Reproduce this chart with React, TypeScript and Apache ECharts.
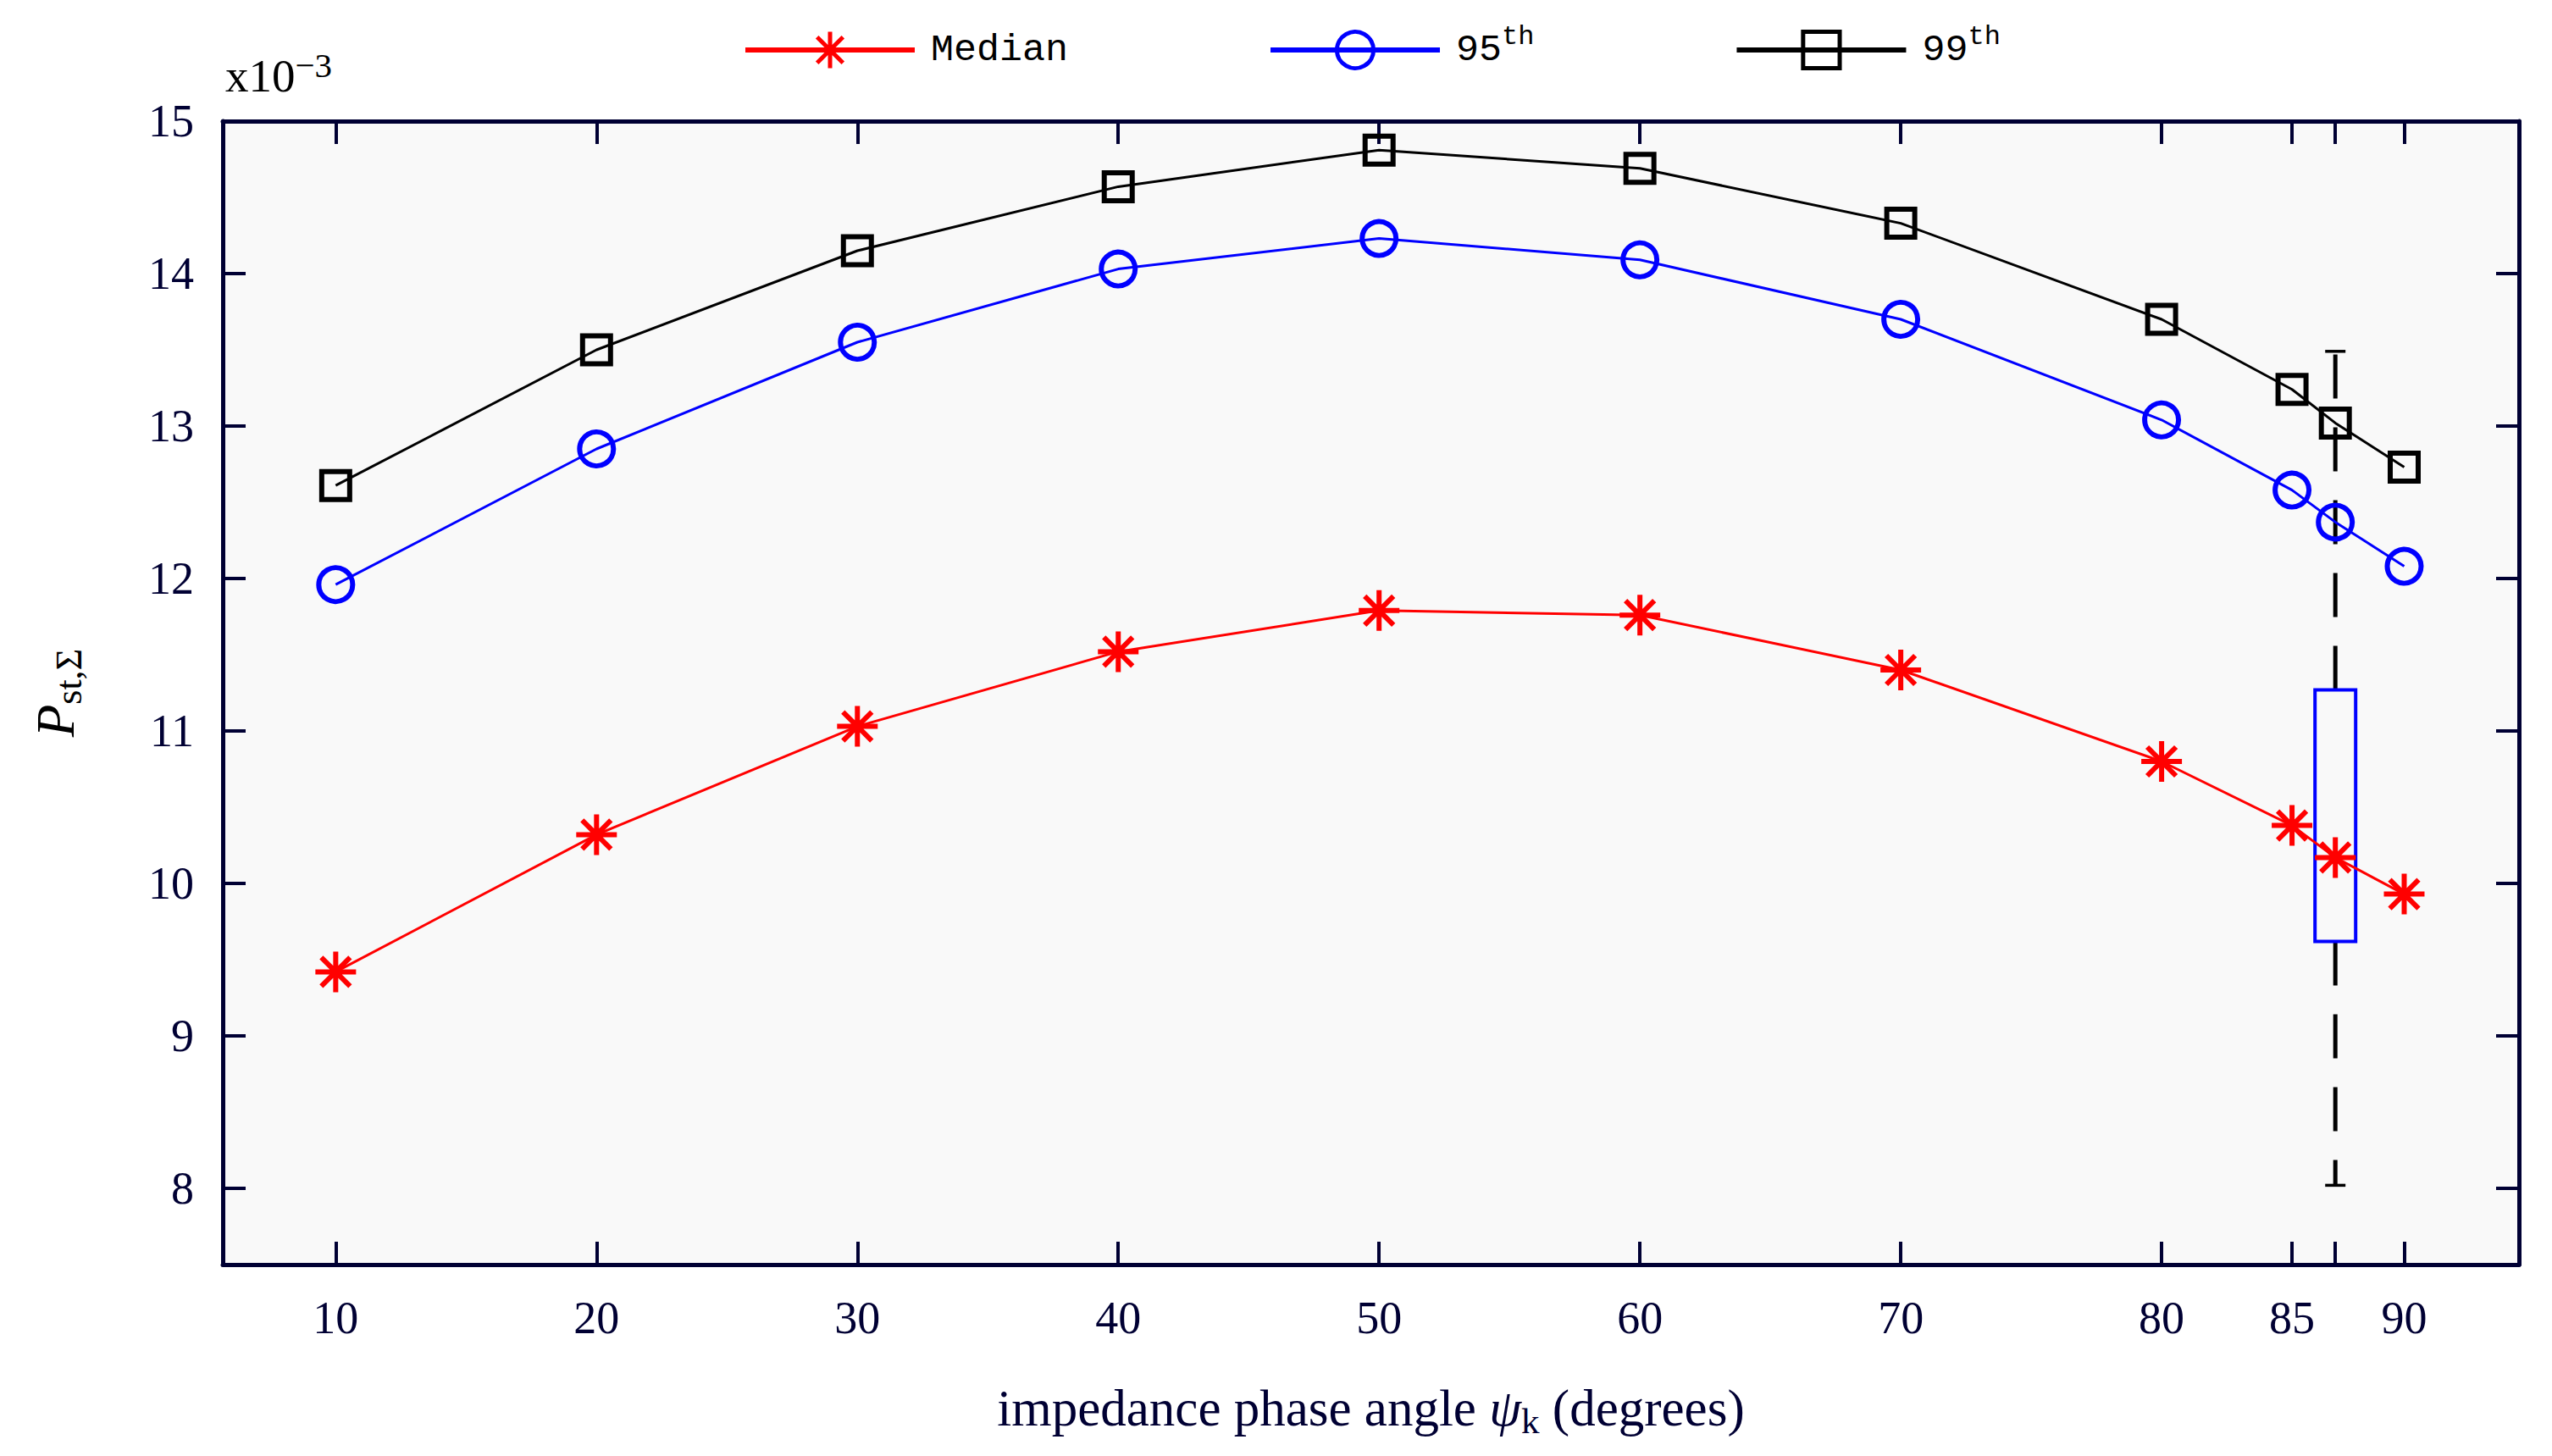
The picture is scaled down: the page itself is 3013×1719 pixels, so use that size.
import React, { useEffect, useRef } from "react";
import * as echarts from "echarts";

// ---- data ----
const xValues = [10, 20, 30, 40, 50, 60, 70, 80, 85, 86.66, 89.3];
const xTickValues = [10, 20, 30, 40, 50, 60, 70, 80, 85, 86.66, 89.3];
const xLabelValues = [10, 20, 30, 40, 50, 60, 70, 80, 85, 89.3];
const xLabelTexts = ["10", "20", "30", "40", "50", "60", "70", "80", "85", "90"];
const yTickValues = [8, 9, 10, 11, 12, 13, 14, 15];
const medianValues = [9.42, 10.32, 11.03, 11.52, 11.79, 11.76, 11.4, 10.8, 10.38, 10.17, 9.93];
const p95Values = [11.96, 12.85, 13.55, 14.03, 14.23, 14.09, 13.7, 13.04, 12.58, 12.37, 12.08];
const p99Values = [12.61, 13.5, 14.15, 14.57, 14.81, 14.69, 14.33, 13.7, 13.24, 13.02, 12.73];
const boxX = 86.66;
// [lower whisker, Q1, median, Q3, upper whisker]
const boxStats = [8.02, 9.62, 10.17, 11.27, 13.49];
const seriesNames = ["Median", "95th", "99th"];
const xRange = [5.67, 93.7];
const yRange = [7.5, 15];

const AXIS = "#000033";
const SERIF = "'Liberation Serif', 'Times New Roman', serif";
const MONO = "'Liberation Mono', 'Courier New', monospace";
const STAR = "path://M0,-24L0,24M-24,0L24,0M-17,-17L17,17M-17,17L17,-17";

export default function App() {
  const ref = useRef<HTMLDivElement>(null);
  useEffect(() => {
    document.body.style.margin = "0";
    const chart = echarts.init(ref.current!, null, { renderer: "svg" });
    const pair = (vals: number[]) => xValues.map((x, i) => [x, vals[i]]);
    const axisCommon = {
      type: "value" as const,
      axisLine: { show: true, lineStyle: { color: AXIS, width: 5 } },
      axisTick: { show: true, inside: true, length: 27, lineStyle: { color: AXIS, width: 4 } },
      splitLine: { show: false },
    };
    const option: any = {
      animation: false,
      backgroundColor: "#ffffff",
      grid: {
        left: 263,
        right: 39,
        top: 143,
        bottom: 226,
        show: true,
        backgroundColor: "#f9f9f9",
        borderWidth: 0,
      },
      legend: {
        left: 872,
        top: 22,
        itemWidth: 200,
        itemHeight: 54,
        itemGap: 236,
        data: seriesNames,
        lineStyle: { width: 6 },
        itemStyle: { borderWidth: 5 },
        textStyle: {
          fontFamily: MONO,
          fontSize: 45,
          color: "#000000",
          padding: [0, 0, 0, 14],
          rich: {
            a: { fontFamily: MONO, fontSize: 45, lineHeight: 64, color: "#000" },
            s: { fontFamily: MONO, fontSize: 32, lineHeight: 32, verticalAlign: "top", color: "#000" },
          },
        },
        formatter: (name: string) => {
          if (name === "Median") return "{a|Median}";
          return "{a|" + name.slice(0, 2) + "}{s|" + name.slice(2) + "}";
        },
      },
      xAxis: [
        {
          ...axisCommon,
          position: "bottom",
          min: xRange[0],
          max: xRange[1],
          axisTick: { ...axisCommon.axisTick, customValues: xTickValues },
          axisLabel: {
            show: true,
            customValues: xLabelValues,
            margin: 36,
            fontFamily: SERIF,
            fontSize: 54,
            color: AXIS,
            formatter: (v: number) => {
              const i = xLabelValues.findIndex((t) => Math.abs(t - v) < 1e-6);
              return i >= 0 ? xLabelTexts[i] : "";
            },
          },
          name: "{a|impedance phase angle }{p|ψ}{k|k}{a| (degrees)}",
          nameLocation: "middle",
          nameGap: 132,
          nameTextStyle: {
            color: AXIS,
            rich: {
              a: { fontFamily: SERIF, fontSize: 61, lineHeight: 74, color: AXIS },
              p: { fontFamily: SERIF, fontStyle: "italic", fontSize: 61, lineHeight: 74, color: AXIS },
              k: { fontFamily: SERIF, fontSize: 43, lineHeight: 36, verticalAlign: "bottom", color: AXIS },
            },
          },
        },
        {
          ...axisCommon,
          position: "top",
          min: xRange[0],
          max: xRange[1],
          axisTick: { ...axisCommon.axisTick, customValues: xTickValues },
          axisLabel: { show: false },
        },
      ],
      yAxis: [
        {
          ...axisCommon,
          position: "left",
          min: yRange[0],
          max: yRange[1],
          axisTick: { ...axisCommon.axisTick, customValues: yTickValues },
          axisLabel: {
            show: true,
            customValues: yTickValues,
            margin: 34,
            fontFamily: SERIF,
            fontSize: 54,
            color: AXIS,
          },
          name: "{p|P}{s|st,Σ}",
          nameLocation: "middle",
          nameRotate: 90,
          nameGap: 160,
          nameTextStyle: {
            color: "#000",
            rich: {
              p: { fontFamily: SERIF, fontStyle: "italic", fontSize: 63, lineHeight: 74, color: "#000" },
              s: { fontFamily: SERIF, fontSize: 44, lineHeight: 36, verticalAlign: "bottom", color: "#000" },
            },
          },
        },
        {
          ...axisCommon,
          position: "right",
          min: yRange[0],
          max: yRange[1],
          axisTick: { ...axisCommon.axisTick, customValues: yTickValues },
          axisLabel: { show: false },
        },
      ],
      graphic: [
        {
          type: "text",
          left: 266,
          top: 56,
          style: {
            text: "{a|x10}{s|−3}",
            rich: {
              a: { fontFamily: SERIF, fontSize: 55, lineHeight: 66, fill: "#000" },
              s: { fontFamily: SERIF, fontSize: 41, lineHeight: 36, verticalAlign: "top", fill: "#000" },
            },
          },
        },
      ],
      series: [
        {
          type: "custom",
          name: "box",
          z: 1,
          silent: true,
          data: [[boxX, ...boxStats]],
          encode: { x: 0, y: [1, 2, 3, 4, 5] },
          renderItem: (params: any, api: any) => {
            const x = api.value(0);
            const p = (v: number) => api.coord([x, v]);
            const [xc, yLo] = p(api.value(1));
            const yQ1 = p(api.value(2))[1];
            const yMed = p(api.value(3))[1];
            const yQ3 = p(api.value(4))[1];
            const yHi = p(api.value(5))[1];
            const halfW = 24;
            const capHalf = 12;
            const dash = { stroke: "#000", lineWidth: 5, lineDash: [52, 34] };
            const solid = { stroke: "#000", lineWidth: 3.5 };
            return {
              type: "group",
              children: [
                { type: "line", shape: { x1: xc, y1: yQ3, x2: xc, y2: yHi }, style: dash },
                { type: "line", shape: { x1: xc, y1: yQ1, x2: xc, y2: yLo }, style: dash },
                { type: "line", shape: { x1: xc - capHalf, y1: yHi, x2: xc + capHalf, y2: yHi }, style: solid },
                { type: "line", shape: { x1: xc - capHalf, y1: yLo, x2: xc + capHalf, y2: yLo }, style: solid },
                {
                  type: "rect",
                  shape: { x: xc - halfW, y: yQ3, width: halfW * 2, height: yQ1 - yQ3 },
                  style: { fill: "none", stroke: "#0000ff", lineWidth: 4 },
                },
                {
                  type: "line",
                  shape: { x1: xc - halfW, y1: yMed, x2: xc + halfW, y2: yMed },
                  style: { stroke: "#ff0000", lineWidth: 4 },
                },
              ],
            };
          },
        },
        {
          type: "line",
          name: seriesNames[0],
          z: 3,
          data: pair(medianValues),
          symbol: STAR,
          symbolSize: 48,
          lineStyle: { color: "#ff0000", width: 3 },
          itemStyle: { color: "#ff0000", borderColor: "#ff0000", borderWidth: 6 },
        },
        {
          type: "line",
          name: seriesNames[1],
          z: 3,
          data: pair(p95Values),
          symbol: "circle",
          symbolSize: 40,
          lineStyle: { color: "#0000ff", width: 3 },
          itemStyle: { color: "rgba(0,0,0,0)", borderColor: "#0000ff", borderWidth: 6 },
        },
        {
          type: "line",
          name: seriesNames[2],
          z: 3,
          data: pair(p99Values),
          symbol: "rect",
          symbolSize: 33,
          lineStyle: { color: "#000000", width: 3 },
          itemStyle: { color: "rgba(0,0,0,0)", borderColor: "#000000", borderWidth: 6 },
        },
      ],
    };
    chart.setOption(option);
    return () => chart.dispose();
  }, []);
  return (
    <div
      ref={ref}
      style={{ position: "fixed", left: 0, top: 0, width: 3013, height: 1719 }}
    />
  );
}
